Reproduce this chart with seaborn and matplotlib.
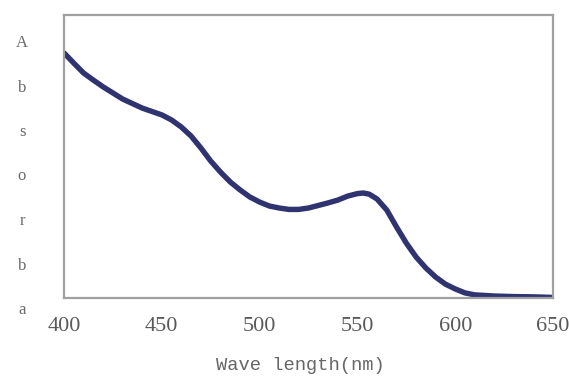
import numpy as np
import pandas as pd
import seaborn as sns
import matplotlib
matplotlib.use("Agg")
import matplotlib.pyplot as plt

# absorbance spectrum (arbitrary units, 0 = x axis)
wavelength = [400, 405, 410, 415, 420, 430, 440, 450, 455, 460, 465, 470, 475,
              480, 485, 490, 495, 500, 505, 510, 515, 520, 525, 530, 535, 540,
              545, 550, 553, 556, 560, 565, 570, 575, 580, 585, 590, 595, 600,
              605, 610, 620, 630, 640, 650]
absorbance = [0.866, 0.830, 0.795, 0.770, 0.746, 0.703, 0.671, 0.647, 0.629,
              0.604, 0.572, 0.530, 0.484, 0.445, 0.410, 0.382, 0.357, 0.339,
              0.325, 0.318, 0.313, 0.313, 0.318, 0.327, 0.336, 0.346, 0.360,
              0.369, 0.371, 0.367, 0.350, 0.311, 0.251, 0.194, 0.145, 0.106,
              0.074, 0.049, 0.032, 0.018, 0.011, 0.007, 0.005, 0.004, 0.002]
x_ticks = [400, 450, 500, 550, 600, 650]
y_letters = list("Absorba")
x_title = "Wave length(nm)"

df = pd.DataFrame({"wl": wavelength, "abs": absorbance})

sns.set_style("white")
fig = plt.figure(figsize=(5.69, 3.76), dpi=100)
ax = fig.add_axes([64 / 569, 78 / 376, 489 / 569, 283 / 376])

sns.lineplot(data=df, x="wl", y="abs", ax=ax, color="#2f3470", linewidth=3.9)

ax.set_xlim(400, 650)
ax.set_ylim(0, 1)
ax.set_xticks(x_ticks)
ax.set_xticklabels([str(t) for t in x_ticks], family="Liberation Serif",
                   fontsize=16, color="#5a5a5a")
ax.set_yticks([])
ax.tick_params(axis="x", length=0, pad=14)
ax.set_xlabel(x_title, family="Liberation Mono", fontsize=13.5, color="#666666")
ax.xaxis.set_label_coords(0.483, -0.21)
ax.set_ylabel("")

for s in ax.spines.values():
    s.set_color("#a0a0a0")
    s.set_linewidth(1.6)

# vertical "Absorba" label, one letter per row
for i, ch in enumerate(y_letters):
    fig.text(22 / 569, 1 - (43 + i * 44.5) / 376, ch, family="Liberation Serif",
             fontsize=12, color="#6a6a6a", ha="center", va="center")

fig.savefig("out.png", dpi=100, facecolor="white")
